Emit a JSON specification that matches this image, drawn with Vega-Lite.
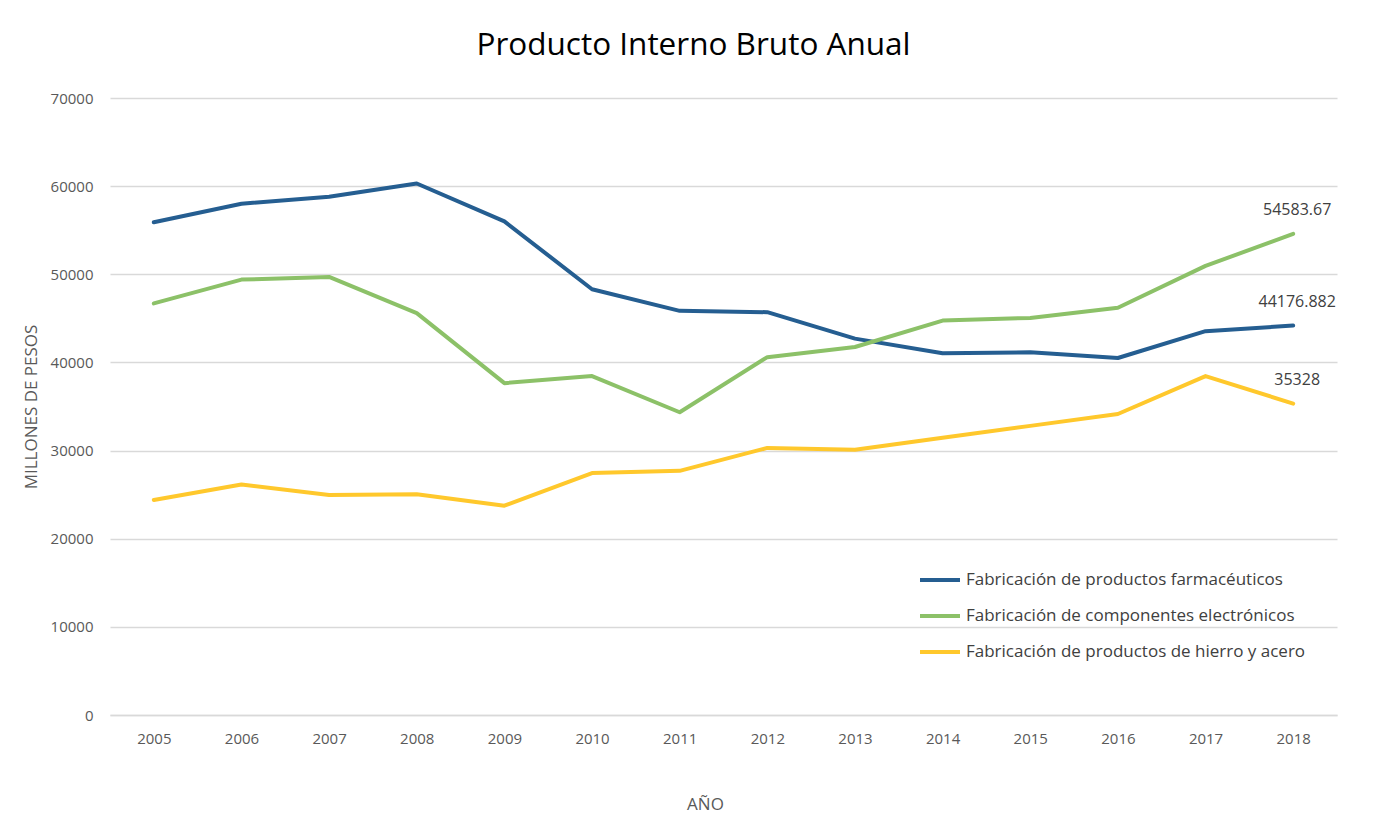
{
  "$schema": "https://vega.github.io/schema/vega-lite/v6.json",
  "width": 1227,
  "height": 617,
  "autosize": {"type": "none"},
  "padding": {"left": 110, "top": 98, "right": 48, "bottom": 110},
  "background": "white",
  "title": {
    "text": "Producto Interno Bruto Anual",
    "font": "Open Sans",
    "fontSize": 31.5,
    "fontWeight": "normal",
    "color": "#000000",
    "anchor": "middle",
    "dx": -30,
    "offset": 30
  },
  "config": {
    "view": {"stroke": null},
    "font": "Open Sans"
  },
  "data": {
    "values": [
      {"year": "2005", "series": "Fabricación de productos farmacéuticos", "value": 55900},
      {"year": "2006", "series": "Fabricación de productos farmacéuticos", "value": 58000},
      {"year": "2007", "series": "Fabricación de productos farmacéuticos", "value": 58800},
      {"year": "2008", "series": "Fabricación de productos farmacéuticos", "value": 60300},
      {"year": "2009", "series": "Fabricación de productos farmacéuticos", "value": 56000},
      {"year": "2010", "series": "Fabricación de productos farmacéuticos", "value": 48300},
      {"year": "2011", "series": "Fabricación de productos farmacéuticos", "value": 45850},
      {"year": "2012", "series": "Fabricación de productos farmacéuticos", "value": 45700},
      {"year": "2013", "series": "Fabricación de productos farmacéuticos", "value": 42700},
      {"year": "2014", "series": "Fabricación de productos farmacéuticos", "value": 41050},
      {"year": "2015", "series": "Fabricación de productos farmacéuticos", "value": 41150},
      {"year": "2016", "series": "Fabricación de productos farmacéuticos", "value": 40500},
      {"year": "2017", "series": "Fabricación de productos farmacéuticos", "value": 43550},
      {"year": "2018", "series": "Fabricación de productos farmacéuticos", "value": 44176.882},
      {"year": "2005", "series": "Fabricación de componentes electrónicos", "value": 46700},
      {"year": "2006", "series": "Fabricación de componentes electrónicos", "value": 49400},
      {"year": "2007", "series": "Fabricación de componentes electrónicos", "value": 49700},
      {"year": "2008", "series": "Fabricación de componentes electrónicos", "value": 45600},
      {"year": "2009", "series": "Fabricación de componentes electrónicos", "value": 37650},
      {"year": "2010", "series": "Fabricación de componentes electrónicos", "value": 38450},
      {"year": "2011", "series": "Fabricación de componentes electrónicos", "value": 34350},
      {"year": "2012", "series": "Fabricación de componentes electrónicos", "value": 40600},
      {"year": "2013", "series": "Fabricación de componentes electrónicos", "value": 41750},
      {"year": "2014", "series": "Fabricación de componentes electrónicos", "value": 44750},
      {"year": "2015", "series": "Fabricación de componentes electrónicos", "value": 45050},
      {"year": "2016", "series": "Fabricación de componentes electrónicos", "value": 46200},
      {"year": "2017", "series": "Fabricación de componentes electrónicos", "value": 50950},
      {"year": "2018", "series": "Fabricación de componentes electrónicos", "value": 54583.67},
      {"year": "2005", "series": "Fabricación de productos de hierro y acero", "value": 24400},
      {"year": "2006", "series": "Fabricación de productos de hierro y acero", "value": 26150},
      {"year": "2007", "series": "Fabricación de productos de hierro y acero", "value": 24950},
      {"year": "2008", "series": "Fabricación de productos de hierro y acero", "value": 25050},
      {"year": "2009", "series": "Fabricación de productos de hierro y acero", "value": 23750},
      {"year": "2010", "series": "Fabricación de productos de hierro y acero", "value": 27450},
      {"year": "2011", "series": "Fabricación de productos de hierro y acero", "value": 27700},
      {"year": "2012", "series": "Fabricación de productos de hierro y acero", "value": 30300},
      {"year": "2013", "series": "Fabricación de productos de hierro y acero", "value": 30100},
      {"year": "2014", "series": "Fabricación de productos de hierro y acero", "value": 31450},
      {"year": "2015", "series": "Fabricación de productos de hierro y acero", "value": 32800},
      {"year": "2016", "series": "Fabricación de productos de hierro y acero", "value": 34150},
      {"year": "2017", "series": "Fabricación de productos de hierro y acero", "value": 38450},
      {"year": "2018", "series": "Fabricación de productos de hierro y acero", "value": 35328}
    ]
  },
  "encoding": {
    "x": {
      "field": "year",
      "type": "ordinal",
      "scale": {"type": "point", "padding": 0.5},
      "axis": {
        "title": "AÑO",
        "titleFont": "Open Sans",
        "titleFontSize": 17,
        "titleFontWeight": "normal",
        "titleColor": "#595959",
        "titlePadding": 50,
        "titleX": 595,
        "labelAngle": 0,
        "labelFontSize": 15,
        "labelColor": "#595959",
        "labelPadding": 16,
        "ticks": false,
        "domain": true,
        "domainColor": "#d9d9d9",
        "domainWidth": 1.5,
        "grid": false
      }
    },
    "y": {
      "field": "value",
      "type": "quantitative",
      "scale": {"domain": [0, 70000], "nice": false},
      "axis": {
        "title": "MILLONES DE PESOS",
        "titleFont": "Open Sans",
        "titleFontSize": 17,
        "titleFontWeight": "normal",
        "titleColor": "#595959",
        "titlePadding": 10,
        "values": [0, 10000, 20000, 30000, 40000, 50000, 60000, 70000],
        "format": "d",
        "labelFontSize": 15,
        "labelColor": "#595959",
        "labelPadding": 17,
        "ticks": false,
        "domain": false,
        "grid": true,
        "gridColor": "#d9d9d9",
        "gridWidth": 1.5
      }
    }
  },
  "layer": [
    {
      "mark": {"type": "line", "strokeWidth": 4, "strokeCap": "round", "strokeJoin": "round"},
      "encoding": {
        "color": {
          "field": "series",
          "type": "nominal",
          "sort": ["Fabricación de productos farmacéuticos", "Fabricación de componentes electrónicos", "Fabricación de productos de hierro y acero"],
          "scale": {
            "domain": ["Fabricación de productos farmacéuticos", "Fabricación de componentes electrónicos", "Fabricación de productos de hierro y acero"],
            "range": ["#255e91", "#8cc168", "#ffc82c"]
          },
          "legend": {
            "title": null,
            "orient": "none",
            "legendX": 808,
            "legendY": 460,
            "symbolType": "stroke",
            "symbolSize": 1600,
            "symbolStrokeWidth": 4,
            "labelFontSize": 17,
            "labelColor": "#404040",
            "labelOffset": 4,
            "rowPadding": 6,
            "labelLimit": 500
          }
        }
      }
    },
    {
      "transform": [{"filter": "datum.year == '2018'"}],
      "mark": {"type": "text", "fontSize": 16, "color": "#404040", "dy": -24, "dx": 4, "baseline": "middle"},
      "encoding": {
        "text": {"field": "value", "type": "nominal"}
      }
    }
  ]
}
